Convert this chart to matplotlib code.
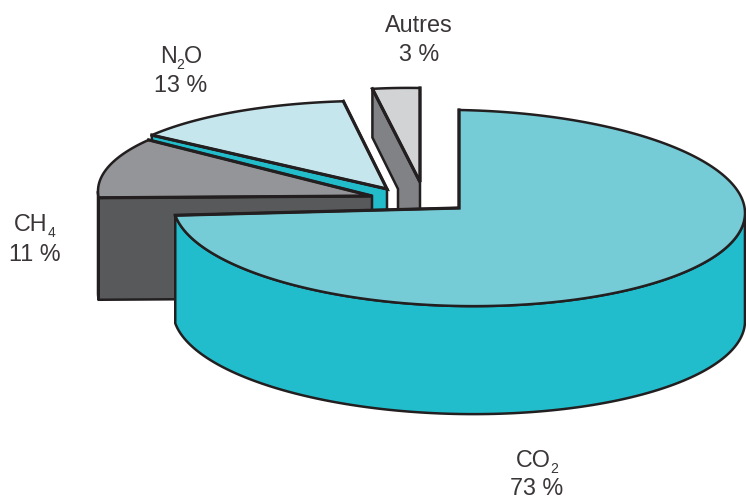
import numpy as np
from matplotlib import pyplot as plt

plt.rcParams["font.family"] = ["Liberation Sans", "DejaVu Sans"]

# Shares, clockwise from 12 o'clock
gases = ["CO", "CH", "N", "Autres"]
subs = ["2", "4", "2", ""]
tails = ["", "", "O", ""]
shares = [73, 11, 13, 3]
top_colors = ["#75ccd6", "#939598", "#c5e6ec", "#d1d3d4"]
side_colors = ["#22bdcc", "#58595b", "#22bccb", "#808285"]

# Each slice is pulled out on its own: centre, radii, rotation, extrusion
centers = [(459, 208), (372, 196), (387, 189), (420, 182)]
radii = [(286, 98), (274, 90), (285, 88), (254, 94)]
rotations = [0, 3, 2, 0]
depths = [108, 102, 102, 102]
name_pos = [(537, 459), (35, 223), (181, 55), (419, 24)]
share_pos = [(537, 487), (35, 253), (181, 84), (419, 53)]

SHEAR = 0.0176  # the ellipse leans a little, left side up
GAP = 11  # white band kept between N2O and the Autres wall
INK = "#231f20"
LW = 1.8
LW_CUT = 2.3  # cut edges of the slices are heavier than the rim
TEXT_COLOR = "#3a3637"
FONT_SIZE = 16.8


def ellipse_points(center, radius, angles):
    rad = np.radians(angles)
    x = radius[0] * np.sin(rad)
    y = -radius[1] * np.cos(rad) + SHEAR * x
    return np.column_stack([center[0] + x, center[1] + y])


def draw_poly(ax, pts, color):
    ax.fill(pts[:, 0], pts[:, 1], facecolor=color, edgecolor=INK, linewidth=LW,
            joinstyle="miter")


def draw_cut(ax, pts):
    ax.plot(pts[:, 0], pts[:, 1], color=INK, linewidth=LW_CUT,
            solid_joinstyle="miter", solid_capstyle="projecting")


def draw_slice(ax, i, start, end):
    center = np.array(centers[i], dtype=float)
    drop = np.array([0, depths[i]])
    angles = np.linspace(start, end, 200)
    arc = ellipse_points(center, radii[i], angles)

    if gases[i] == "Autres":
        # wall on the start edge, cut by the band along the N2O slice
        first = arc[0]
        n2o_c = np.array(centers[2], dtype=float)
        n2o_end = ellipse_points(n2o_c, radii[2], [start + rotations[2]])[0]
        run = (n2o_c[0] - n2o_end[0]) / (n2o_c[1] - n2o_end[1])
        notch_y = n2o_end[1] + (first[0] - GAP - n2o_end[0]) / run
        wall = np.array([first, center, center + drop,
                         [n2o_c[0] + GAP, center[1] + drop[1]],
                         [n2o_c[0] + GAP, n2o_c[1]],
                         [first[0], notch_y]])
        draw_poly(ax, wall, side_colors[i])
    else:
        # radial face at the start of the slice
        face = np.array([center, arc[0], arc[0] + drop, center + drop])
        draw_poly(ax, face, side_colors[i])
        # curved outer wall, only where it faces the viewer
        front = angles[np.cos(np.radians(angles)) < 0]
        if len(front) > 1:
            rim = ellipse_points(center, radii[i], front)
            draw_poly(ax, np.vstack([rim, rim[::-1] + drop]), side_colors[i])

    draw_poly(ax, np.vstack([center, arc]), top_colors[i])
    draw_cut(ax, np.array([arc[0], center, arc[-1]]))


def draw_name(ax, fig, pos, name, sub, tail):
    # name with a small lowered subscript, centred as one group
    renderer = fig.canvas.get_renderer()
    parts = [(name, FONT_SIZE, 0), (sub, FONT_SIZE * 0.6, 6), (tail, FONT_SIZE, 0)]
    parts = [p for p in parts if p[0]]
    texts = [ax.text(0, pos[1], p[0], fontsize=p[1], color=TEXT_COLOR,
                     ha="left", va="baseline") for p in parts]
    widths = [t.get_window_extent(renderer).width for t in texts]
    x = pos[0] - sum(widths) / 2
    for t, p, w in zip(texts, parts, widths):
        t.set_position((x, pos[1] + 8 + p[2]))
        x += w


fig = plt.figure(figsize=(7.46, 5), dpi=100)
ax = fig.add_axes([0, 0, 1, 1])
ax.set_xlim(0, 746)
ax.set_ylim(500, 0)
ax.axis("off")

edges = np.concatenate([[0], np.cumsum(shares)]) * 3.6

# Back slices first, the large one goes over them
for i in [3, 2, 1, 0]:
    draw_slice(ax, i, edges[i] + rotations[i], edges[i + 1] + rotations[i])

for i in range(len(gases)):
    draw_name(ax, fig, name_pos[i], gases[i], subs[i], tails[i])
    ax.text(share_pos[i][0], share_pos[i][1] + 8, f"{shares[i]} %", ha="center",
            va="baseline", fontsize=FONT_SIZE, color=TEXT_COLOR)

fig.savefig("out.png", dpi=100)
